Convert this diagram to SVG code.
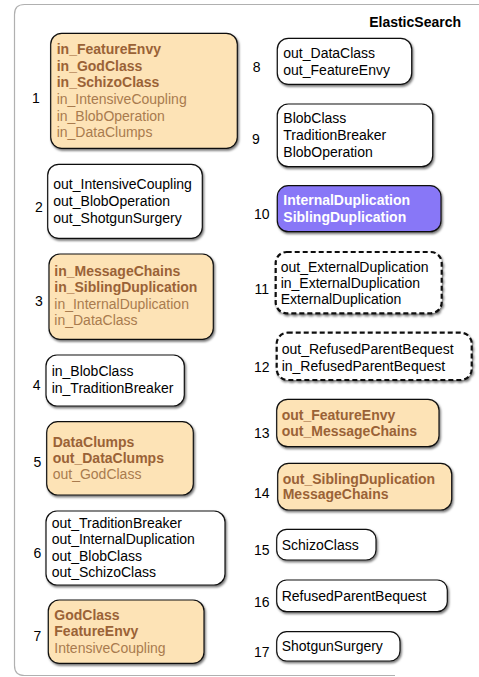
<svg xmlns="http://www.w3.org/2000/svg" width="479" height="677" viewBox="0 0 479 677">
<defs>
<filter id="sh" x="-10%" y="-10%" width="125%" height="130%">
<feDropShadow dx="1.2" dy="1.8" stdDeviation="0.9" flood-color="#000" flood-opacity="0.55"/>
</filter>
<style>
text{font-family:"Liberation Sans",Arial,sans-serif;font-size:14px;}
.box{fill:#fff;stroke:#111;stroke-width:1.2;filter:url(#sh);}
.org{fill:#fde3b6;}
.pur{fill:#8877f7;}
.dash{stroke-width:2.2;stroke-dasharray:5 3;}
.lbl{fill:#000;text-anchor:middle;}
.t{fill:#000;}
.b{fill:#9a6236;font-weight:bold;}
.r{fill:#a97b4e;}
.w{fill:#fff;font-weight:bold;}
.frame{fill:none;stroke:#b0b0b0;stroke-width:1.2;}
</style>
</defs>
<path class="frame" d="M479,4.5 H24.5 Q14.5,4.5 14.5,14.5 V665.5 Q14.5,675.5 24.5,675.5 H395"/>
<text x="461" y="27" text-anchor="end" style="font-weight:bold" fill="#000">ElasticSearch</text>
<g id="connectors"></g>
<g id="n1">
<rect class="box org" x="50.7" y="33.3" width="186.6" height="115" rx="11"/>
<text class="lbl" x="36" y="103">1</text>
<text x="56.7"><tspan class="b" x="56.7" y="54">in_FeatureEnvy</tspan><tspan class="b" x="56.7" y="70.5">in_GodClass</tspan><tspan class="b" x="56.7" y="87">in_SchizoClass</tspan><tspan class="r" x="56.7" y="104">in_IntensiveCoupling</tspan><tspan class="r" x="56.7" y="120.5">in_BlobOperation</tspan><tspan class="r" x="56.7" y="137">in_DataClumps</tspan></text>
</g>
<g id="n2">
<rect class="box" x="47.7" y="164.3" width="154.6" height="74" rx="11"/>
<text class="lbl" x="39" y="212">2</text>
<text class="t"><tspan x="53.3" y="189.3">out_IntensiveCoupling</tspan><tspan x="53.3" y="206">out_BlobOperation</tspan><tspan x="53.3" y="223">out_ShotgunSurgery</tspan></text>
</g>
<g id="n3">
<rect class="box org" x="49" y="254" width="164.3" height="85.3" rx="11"/>
<text class="lbl" x="39" y="306">3</text>
<text><tspan class="b" x="54.3" y="275.7">in_MessageChains</tspan><tspan class="b" x="54.3" y="291.7">in_SiblingDuplication</tspan><tspan class="r" x="54.3" y="309">in_InternalDuplication</tspan><tspan class="r" x="54.3" y="325">in_DataClass</tspan></text>
</g>
<g id="n4">
<rect class="box" x="46" y="355" width="138.3" height="51" rx="11"/>
<text class="lbl" x="36.7" y="390">4</text>
<text class="t"><tspan x="51.7" y="375.7">in_BlobClass</tspan><tspan x="51.7" y="393.3">in_TraditionBreaker</tspan></text>
</g>
<g id="n5">
<rect class="box org" x="46.7" y="421.7" width="146.6" height="73.3" rx="11"/>
<text class="lbl" x="37.3" y="467">5</text>
<text><tspan class="b" x="52.7" y="446.7">DataClumps</tspan><tspan class="b" x="52.7" y="463.3">out_DataClumps</tspan><tspan class="r" x="52.7" y="479">out_GodClass</tspan></text>
</g>
<g id="n6">
<rect class="box" x="46" y="511" width="179" height="74" rx="11"/>
<text class="lbl" x="37.3" y="557.5">6</text>
<text class="t"><tspan x="51.7" y="527.7">out_TraditionBreaker</tspan><tspan x="51.7" y="544">out_InternalDuplication</tspan><tspan x="51.7" y="560.7">out_BlobClass</tspan><tspan x="51.7" y="576.7">out_SchizoClass</tspan></text>
</g>
<g id="n7">
<rect class="box org" x="48.3" y="600" width="155.7" height="63.3" rx="11"/>
<text class="lbl" x="37.3" y="641">7</text>
<text><tspan class="b" x="54.3" y="620">GodClass</tspan><tspan class="b" x="54.3" y="636">FeatureEnvy</tspan><tspan class="r" x="54.3" y="653.3">IntensiveCoupling</tspan></text>
</g>
<g id="n8">
<rect class="box" x="277.3" y="38.3" width="134.4" height="46" rx="11"/>
<text class="lbl" x="256.7" y="72">8</text>
<text class="t"><tspan x="283.3" y="58.3">out_DataClass</tspan><tspan x="283.3" y="75">out_FeatureEnvy</tspan></text>
</g>
<g id="n9">
<rect class="box" x="277.3" y="104" width="155.4" height="62.7" rx="11"/>
<text class="lbl" x="256" y="143.5">9</text>
<text class="t"><tspan x="283.3" y="123.3">BlobClass</tspan><tspan x="283.3" y="140">TraditionBreaker</tspan><tspan x="283.3" y="156.7">BlobOperation</tspan></text>
</g>
<g id="n10">
<rect class="box pur" x="277.3" y="185.7" width="163.7" height="46" rx="11"/>
<text class="lbl" x="261.7" y="218.5">10</text>
<text><tspan class="w" x="283.3" y="205">InternalDuplication</tspan><tspan class="w" x="283.3" y="222.3">SiblingDuplication</tspan></text>
</g>
<g id="n11">
<rect class="box dash" x="275.7" y="252" width="166" height="61.3" rx="11"/>
<text class="lbl" x="261.7" y="294">11</text>
<text class="t"><tspan x="280.7" y="272.3">out_ExternalDuplication</tspan><tspan x="280.7" y="288.3">in_ExternalDuplication</tspan><tspan x="280.7" y="304.3">ExternalDuplication</tspan></text>
</g>
<g id="n12">
<rect class="box dash" x="276.7" y="332.7" width="195" height="47.3" rx="11"/>
<text class="lbl" x="261.7" y="371.7">12</text>
<text class="t"><tspan x="281.7" y="354">out_RefusedParentBequest</tspan><tspan x="281.7" y="370.7">in_RefusedParentBequest</tspan></text>
</g>
<g id="n13">
<rect class="box org" x="276.7" y="399.3" width="162.3" height="47.4" rx="11"/>
<text class="lbl" x="261.7" y="437.7">13</text>
<text><tspan class="b" x="281.7" y="420">out_FeatureEnvy</tspan><tspan class="b" x="281.7" y="435.7">out_MessageChains</tspan></text>
</g>
<g id="n14">
<rect class="box org" x="277.7" y="463.3" width="174" height="46.7" rx="11"/>
<text class="lbl" x="261.7" y="497.7">14</text>
<text><tspan class="b" x="282.7" y="484.3">out_SiblingDuplication</tspan><tspan class="b" x="282.7" y="499.3">MessageChains</tspan></text>
</g>
<g id="n15">
<rect class="box" x="276.7" y="529.3" width="99.3" height="30.7" rx="10"/>
<text class="lbl" x="261.7" y="555">15</text>
<text class="t" x="281.7" y="550">SchizoClass</text>
</g>
<g id="n16">
<rect class="box" x="276.7" y="580" width="170.6" height="31.7" rx="10"/>
<text class="lbl" x="261.7" y="606.7">16</text>
<text class="t" x="281.7" y="600.7">RefusedParentBequest</text>
</g>
<g id="n17">
<rect class="box" x="276.7" y="631.7" width="123.3" height="29.3" rx="10"/>
<text class="lbl" x="261.7" y="656.7">17</text>
<text class="t" x="281.7" y="650.7">ShotgunSurgery</text>
</g>
</svg>
